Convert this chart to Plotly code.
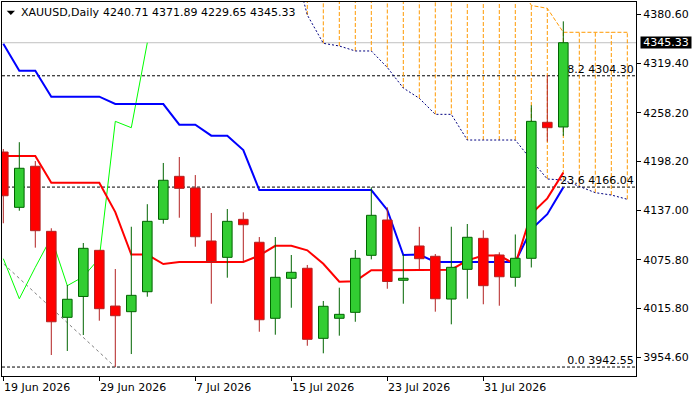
import plotly.graph_objects as go

# daily bars shown on the chart (trading days only)
dates = ["19 Jun 2026", "22 Jun 2026", "23 Jun 2026", "24 Jun 2026", "25 Jun 2026", "26 Jun 2026",
         "29 Jun 2026", "30 Jun 2026", "1 Jul 2026", "2 Jul 2026", "3 Jul 2026", "6 Jul 2026",
         "7 Jul 2026", "8 Jul 2026", "9 Jul 2026", "10 Jul 2026", "13 Jul 2026", "14 Jul 2026",
         "15 Jul 2026", "16 Jul 2026", "17 Jul 2026", "20 Jul 2026", "21 Jul 2026", "22 Jul 2026",
         "23 Jul 2026", "24 Jul 2026", "27 Jul 2026", "28 Jul 2026", "29 Jul 2026", "30 Jul 2026",
         "31 Jul 2026", "3 Aug 2026", "4 Aug 2026", "5 Aug 2026", "6 Aug 2026", "7 Aug 2026"]
opens = [4209.6, 4140.9, 4191.9, 4111.1, 4004.3, 4030.2, 4087.5, 4018.3, 4011.3, 4036.1, 4126.0, 4179.4,
         4164.9, 4099.1, 4078.8, 4126.0, 4097.5, 4003.1, 4052.8, 4065.2, 3978.2, 4003.1, 4010.5, 4081.3,
         4125.2, 4050.3, 4092.9, 4080.1, 4027.0, 4063.9, 4102.4, 4081.7, 4054.0, 4077.6, 4246.5, 4240.71]
highs = [4213.3, 4221.8, 4198.4, 4114.9, 4044.4, 4096.6, 4088.0, 4064.3, 4116.8, 4144.8, 4196.0, 4203.4,
         4181.0, 4133.9, 4138.8, 4134.7, 4104.0, 4104.0, 4081.7, 4069.3, 4024.6, 4041.1, 4087.9, 4165.8,
         4140.9, 4082.3, 4116.7, 4082.9, 4116.8, 4120.2, 4112.4, 4085.0, 4107.2, 4267.6, 4305.2, 4371.89]
lows = [4121.1, 4136.7, 4090.8, 3957.5, 3962.5, 3982.3, 4000.1, 3942.55, 3958.7, 4029.9, 4120.6, 4128.0,
        4092.0, 4021.2, 4053.5, 4073.4, 3986.4, 3982.7, 4016.2, 3969.0, 3959.6, 3981.5, 3998.8, 4076.3,
        4039.8, 4021.2, 4064.3, 4011.3, 3995.6, 4027.4, 4020.5, 4018.7, 4042.3, 4066.2, 4222.4, 4229.65]
closes = [4155.3, 4189.4, 4111.9, 3998.8, 4026.7, 4090.0, 4015.0, 4006.3, 4031.6, 4123.5, 4174.5, 4164.5,
          4104.4, 4073.4, 4123.5, 4119.3, 4001.3, 4054.0, 4060.2, 3977.0, 4018.0, 4008.0, 4077.6, 4131.0,
          4048.8, 4052.8, 4077.1, 4027.4, 4066.4, 4103.7, 4043.6, 4054.7, 4077.6, 4247.7, 4239.8, 4345.33]

# Ichimoku lines
tenkan = [4204.6, 4204.6, 4204.6, 4171.5, 4171.5, 4171.5, 4171.5, 4135.0, 4082.2, 4082.2, 4070.5, 4073.0,
          4073.0, 4073.0, 4073.0, 4073.0, 4081.1, 4093.1, 4093.1, 4087.5, 4070.8, 4048.5, 4049.2, 4062.9,
          4062.9, 4062.9, 4062.9, 4062.9, 4063.5, 4075.0, 4081.0, 4081.0, 4070.0, 4133.0, 4152.0, 4184.0]
kijun = [4344.0, 4310.6, 4310.6, 4278.3, 4278.3, 4278.3, 4278.3, 4269.2, 4269.2, 4269.2, 4269.2, 4243.5,
         4243.5, 4229.9, 4229.9, 4212.1, 4162.4, 4162.4, 4162.4, 4162.4, 4162.4, 4162.4, 4162.4, 4162.4,
         4137.6, 4081.7, 4082.2, 4073.0, 4073.0, 4073.0, 4073.0, 4073.0, 4073.0, 4113.6, 4132.4, 4165.7]
cloud_start = 18
span_a = [4455.0, 4379.8, 4344.6, 4341.3, 4335.1, 4335.1, 4314.6, 4289.1, 4276.3, 4256.4, 4256.4,
          4224.5, 4224.5, 4224.5, 4224.5, 4199.7, 4176.1, 4174.8, 4166.5, 4159.1, 4156.2, 4150.9]
span_b = [4470.0, 4470.0, 4470.0, 4470.0, 4470.0, 4470.0, 4470.0, 4470.0, 4470.0, 4470.0, 4470.0,
          4470.0, 4470.0, 4470.0, 4430.0, 4391.6, 4388.1, 4358.3, 4358.3, 4358.3, 4358.3, 4358.3]
chikou_shift = 26

# Fibonacci retracement
fib_levels = ["0.0", "23.6", "38.2"]
fib_prices = [3942.55, 4166.04, 4304.30]
fib_anchor_bars = [-44.6, 7]
fib_anchor_prices = [4889.54, 3942.55]

price_ticks = [4380.60, 4319.40, 4258.20, 4198.20, 4137.00, 4075.80, 4015.80, 3954.60]
symbol = "XAUUSD,Daily"

FONT = "DejaVu Sans"
bars = list(range(len(dates)))
cloud_bars = list(range(cloud_start, cloud_start + len(span_a)))
x_range = [-0.08125, 39.54375]
y_range = [3931.42, 4395.92]

fig = go.Figure()

# --- indicator layer (behind candles) ---
fig.add_trace(go.Scatter(x=fib_anchor_bars, y=fib_anchor_prices, mode="lines",
                         line=dict(color="#808080", width=1, dash="3px,3px")))

hx, hy = [], []
for b, a, s in zip(cloud_bars, span_a, span_b):
    hx += [b, b, None]
    hy += [a, s, None]
fig.add_trace(go.Scatter(x=hx, y=hy, mode="lines", line=dict(color="#FF9900", width=1, dash="4px,2px")))
fig.add_trace(go.Scatter(x=cloud_bars, y=span_b, mode="lines",
                         line=dict(color="#FF9900", width=1, dash="4px,2px")))
fig.add_trace(go.Scatter(x=cloud_bars, y=span_a, mode="lines",
                         line=dict(color="#000080", width=1, dash="2px,2px")))

chikou = closes[chikou_shift:]
fig.add_trace(go.Scatter(x=bars[:len(chikou)], y=chikou, mode="lines", line=dict(color="#00FF00", width=1)))
fig.add_trace(go.Scatter(x=bars, y=kijun, mode="lines", line=dict(color="#0000FF", width=2)))
fig.add_trace(go.Scatter(x=bars, y=tenkan, mode="lines", line=dict(color="#FF0000", width=2)))

fig.add_trace(go.Scatter(x=[39.4] * len(fib_prices), y=fib_prices, mode="text",
                         text=[f"{l} {p:.2f}" for l, p in zip(fib_levels, fib_prices)],
                         textposition="top left", cliponaxis=False,
                         textfont=dict(family=FONT, size=11, color="black")))

# --- candles on an overlaid axis pair so they sit above the indicators ---
for bull, fill, edge in [(True, "#32CD32", "#006400"), (False, "#FF0000", "#B22222")]:
    idx = [i for i in bars if (closes[i] >= opens[i]) == bull]
    fig.add_trace(go.Bar(x=idx, y=[closes[i] - opens[i] for i in idx], base=[opens[i] for i in idx],
                         width=0.6, marker=dict(color=fill, line=dict(color=edge, width=1)),
                         xaxis="x2", yaxis="y2"))
    wx, wy = [], []
    for i in idx:
        top, bot = max(opens[i], closes[i]), min(opens[i], closes[i])
        wx += [i, i, None, i, i, None]
        wy += [top, highs[i], None, lows[i], bot, None]
    fig.add_trace(go.Scatter(x=wx, y=wy, mode="lines", line=dict(color=edge, width=1),
                             xaxis="x2", yaxis="y2"))

# current price and fib level lines
fig.add_hline(y=closes[-1], line=dict(color="#C0C0C0", width=1), layer="below")
for p in fib_prices:
    fig.add_hline(y=p, line=dict(color="black", width=1, dash="3px,2px"), layer="below")

# date labels start at their tick, like MT4
tick_bars = bars[::6]
for b in tick_bars:
    fig.add_annotation(x=b, y=0, xref="x", yref="paper", text=dates[b], showarrow=False,
                       xanchor="left", yanchor="middle", yshift=-11.5, xshift=-1,
                       font=dict(family=FONT, size=11, color="black"))

fig.add_annotation(x=0, y=1, xref="paper", yref="paper", text=symbol, showarrow=False,
                   xanchor="left", yanchor="middle", xshift=17, yshift=-10.7,
                   font=dict(family=FONT, size=11, color="black"))
fig.add_annotation(x=0, y=1, xref="paper", yref="paper", showarrow=False,
                   text=f"{opens[-1]:.2f} {highs[-1]:.2f} {lows[-1]:.2f} {closes[-1]:.2f}",
                   xanchor="left", yanchor="middle", xshift=99, yshift=-10.7,
                   font=dict(family=FONT, size=11, color="black"))
fig.add_shape(type="path", xref="paper", yref="paper", xsizemode="pixel", ysizemode="pixel",
              xanchor=0, yanchor=1, path="M4.7,-8.7 L13,-8.7 L8.85,-13 Z",
              fillcolor="black", line=dict(width=0))

fig.add_annotation(x=1, y=closes[-1], xref="paper", yref="y", text=f"{closes[-1]:.2f}",
                   showarrow=False, xanchor="left", yanchor="middle", xshift=4,
                   width=50, height=11, borderpad=0, bgcolor="black",
                   font=dict(family=FONT, size=11, color="white"))

axis_common = dict(showgrid=False, zeroline=False, fixedrange=True)
fig.update_layout(
    width=700, height=400,
    margin=dict(l=2, r=64, t=2, b=24),
    paper_bgcolor="white", plot_bgcolor="white",
    showlegend=False, barmode="overlay", hovermode=False,
    font=dict(family=FONT, size=11, color="black"),
    xaxis=dict(range=x_range, showline=True, mirror=True, linecolor="black", linewidth=1,
               ticks="outside", ticklen=4, tickcolor="black", tickvals=tick_bars,
               showticklabels=False, **axis_common),
    yaxis=dict(range=y_range, side="right", showline=True, mirror=True, linecolor="black", linewidth=1,
               ticks="outside", ticklen=4, tickcolor="black", tickvals=price_ticks, tickformat=".2f",
               tickfont=dict(family=FONT, size=11, color="black"), **axis_common),
    xaxis2=dict(range=x_range, overlaying="x", visible=False, **axis_common),
    yaxis2=dict(range=y_range, overlaying="y", visible=False, **axis_common),
)

# the page has a default body margin; drop it so the figure fills the window
fig.write_html("out.html", config={"displayModeBar": False},
               post_script="document.body.style.margin='0';")
